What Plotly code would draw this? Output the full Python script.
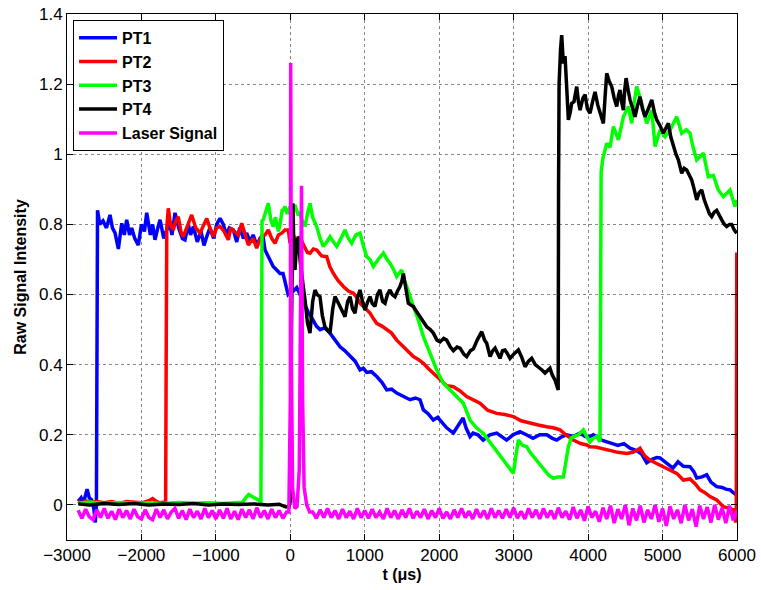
import plotly.graph_objects as go

# ---------------- data ----------------
pt1_t = [-2850,-2810,-2780,-2750,-2730,-2700,-2670,-2640,-2620,-2605,-2598,-2590,-2560,-2516,-2470,-2422,-2390,-2355,-2310,-2265,
         -2230,-2198,-2160,-2131,-2090,-2042,-2000,-1960,-1929,-1880,-1850,-1818,-1780,-1750,-1700,-1661,-1620,-1590,-1549,-1500,
         -1450,-1415,-1370,-1340,-1303,-1250,-1200,-1160,-1123,-1080,-1030,-990,-944,-900,-860,-820,-765,-720,-680,-630,
         -586,-540,-500,-450,-407,-370,-340,-300,-273,-230,-183,-139,-98,-60,-30,-4,40,86,130,172,
         240,306,350,400,460,533,600,668,730,802,870,936,980,1026,1090,1160,1230,1295,1360,1429,
         1520,1608,1680,1742,1787,1850,1920,1980,2011,2100,2190,2250,2320,2360,2414,2455,2520,2590,2680,2772,
         2840,2906,2990,3085,3170,3260,3350,3444,3520,3579,3650,3713,3800,3892,3960,4026,4070,4180,4295,4400,
         4480,4563,4650,4720,4787,4860,4920,4966,5050,5140,5208,5280,5369,5420,5459,5530,5593,5650,5727,5800,
         5850,5906,5950,5996]
pt1_v = [0.01,0.02,0.005,0.03,0.045,0.02,0.015,-0.01,-0.05,0.0,0.5,0.84,0.8,0.81,0.79,0.827,0.79,0.776,0.73,0.803,
         0.77,0.813,0.77,0.79,0.76,0.741,0.8,0.78,0.833,0.77,0.8,0.756,0.79,0.813,0.76,0.784,0.8,0.77,0.833,0.79,
         0.76,0.756,0.8,0.77,0.794,0.75,0.78,0.74,0.765,0.79,0.76,0.8,0.817,0.8,0.77,0.79,0.784,0.75,0.79,0.76,
         0.775,0.75,0.77,0.74,0.76,0.77,0.727,0.71,0.70,0.68,0.67,0.66,0.66,0.63,0.6,0.605,0.61,0.62,0.6,0.585,
         0.55,0.527,0.51,0.5,0.505,0.49,0.47,0.451,0.44,0.423,0.41,0.385,0.39,0.378,0.38,0.366,0.35,0.328,0.33,0.319,
         0.31,0.3,0.305,0.3,0.271,0.26,0.242,0.25,0.242,0.22,0.205,0.225,0.248,0.22,0.195,0.205,0.2,0.185,0.2,0.205,
         0.195,0.185,0.2,0.209,0.2,0.19,0.2,0.2,0.19,0.185,0.195,0.2,0.195,0.205,0.195,0.195,0.2,0.185,0.177,0.17,
         0.175,0.162,0.155,0.145,0.12,0.13,0.135,0.134,0.12,0.105,0.123,0.11,0.109,0.095,0.077,0.08,0.086,0.065,0.052,0.05,
         0.045,0.043,0.035,0.028]

pt2_t = [-2850,-2800,-2750,-2700,-2600,-2500,-2400,-2300,-2200,-2100,-2000,-1900,-1850,-1800,-1750,-1700,-1675,-1668,-1660,-1639,
         -1610,-1572,-1540,-1505,-1470,-1438,-1380,-1325,-1270,-1213,-1160,-1123,-1080,-1035,-990,-944,-890,-833,-800,-765,
         -700,-653,-610,-564,-500,-452,-420,-385,-340,-296,-250,-206,-160,-116,-72,-27,-4,40,80,130,
         180,230,264,310,354,420,489,530,578,640,713,780,847,900,936,1000,1070,1120,1160,1230,
         1295,1360,1429,1500,1563,1610,1653,1720,1787,1850,1921,1980,2011,2100,2190,2280,2369,2450,2548,2650,
         2772,2880,2996,3100,3220,3330,3444,3530,3623,3700,3801,3900,3981,4026,4100,4160,4295,4400,4519,4600,
         4650,4697,4760,4831,4920,5010,5100,5190,5279,5369,5440,5503,5570,5637,5727,5817,5900,5951,5983,5990,
         5997]
pt2_v = [0.01,0.005,0.012,0.008,0.01,0.006,0.01,0.004,0.01,0.008,0.006,0.012,0.018,0.01,0.006,0.008,0.005,0.4,0.79,0.846,
         0.8,0.784,0.81,0.822,0.78,0.765,0.8,0.827,0.79,0.775,0.8,0.817,0.79,0.765,0.79,0.794,0.78,0.756,0.79,0.784,
         0.77,0.803,0.77,0.741,0.76,0.732,0.75,0.765,0.77,0.784,0.76,0.746,0.77,0.775,0.784,0.784,0.746,0.77,0.75,0.765,
         0.74,0.72,0.718,0.73,0.727,0.71,0.708,0.68,0.66,0.64,0.623,0.61,0.604,0.59,0.575,0.56,0.547,0.53,0.518,0.51,
         0.499,0.49,0.47,0.455,0.442,0.43,0.423,0.415,0.404,0.39,0.376,0.365,0.356,0.34,0.337,0.325,0.309,0.3,0.29,0.27,
         0.261,0.258,0.252,0.24,0.233,0.228,0.223,0.22,0.214,0.2,0.185,0.175,0.171,0.166,0.165,0.162,0.157,0.15,0.147,0.15,
         0.155,0.162,0.14,0.128,0.118,0.109,0.1,0.09,0.071,0.074,0.06,0.043,0.035,0.024,0.014,-0.005,-0.01,-0.014,-0.05,-0.04,
         0.72]

pt3_t = [-2850,-2700,-2500,-2300,-2100,-1900,-1700,-1500,-1300,-1100,-900,-750,-640,-600,-560,-520,-480,-430,-395,-388,
         -380,-363,-330,-296,-260,-229,-200,-184,-160,-139,-110,-94,-72,-40,-4,30,63,100,130,160,
         197,230,264,300,354,400,443,490,533,580,623,680,734,780,824,880,936,980,1026,1070,
         1115,1180,1250,1300,1339,1390,1429,1496,1530,1563,1610,1653,1720,1787,1876,1966,2056,2145,2190,2280,
         2324,2414,2500,2593,2660,2727,2800,2862,2930,2996,3030,3063,3120,3175,3220,3265,3330,3399,3470,3533,
         3600,3668,3700,3735,3770,3801,3870,3936,3980,4026,4070,4115,4160,4168,4175,4200,4250,4295,4340,4407,
         4474,4541,4586,4620,4653,4720,4787,4855,4899,4966,5033,5100,5190,5257,5320,5369,5410,5459,5548,5615,
         5682,5749,5817,5906,5973,5998]
pt3_v = [0.005,0.008,0.004,0.007,0.005,0.006,0.004,0.007,0.005,0.006,0.004,0.006,0.008,0.02,0.03,0.025,0.02,0.012,0.01,0.4,
         0.81,0.813,0.84,0.86,0.81,0.794,0.82,0.8,0.78,0.8,0.84,0.841,0.851,0.83,0.851,0.84,0.855,0.83,0.832,0.81,
         0.794,0.83,0.86,0.82,0.794,0.76,0.737,0.75,0.765,0.75,0.737,0.76,0.784,0.76,0.746,0.77,0.775,0.74,0.708,0.7,
         0.68,0.7,0.718,0.7,0.689,0.67,0.651,0.67,0.64,0.623,0.59,0.566,0.527,0.48,0.433,0.385,0.347,0.328,0.318,0.3,
         0.29,0.242,0.22,0.204,0.185,0.166,0.145,0.128,0.11,0.09,0.14,0.185,0.17,0.166,0.15,0.138,0.12,0.1,0.085,0.076,
         0.08,0.08,0.12,0.166,0.19,0.195,0.2,0.214,0.195,0.18,0.19,0.195,0.18,0.6,0.95,0.99,1.031,1.02,1.079,1.041,
         1.107,1.136,1.088,1.15,1.193,1.145,1.088,1.126,1.022,1.069,1.05,1.069,1.107,1.06,1.07,1.06,1.02,0.984,1.003,0.936,
         0.94,0.898,0.879,0.898,0.851,0.87]

pt4_t = [-2850,-2700,-2500,-2300,-2100,-1900,-1700,-1500,-1300,-1100,-900,-700,-500,-300,-150,-60,-20,0,15,35,
         50,63,85,108,130,153,175,197,230,264,300,331,360,398,430,465,500,533,570,600,
         634,667,700,734,770,802,835,869,900,936,970,1003,1040,1070,1100,1137,1170,1204,1240,1272,
         1305,1339,1370,1406,1440,1473,1500,1518,1550,1585,1620,1653,1700,1742,1790,1832,1880,1921,1970,2011,
         2060,2100,2150,2190,2240,2280,2330,2369,2420,2459,2510,2571,2610,2638,2683,2720,2750,2790,2817,2850,
         2884,2920,2951,3000,3063,3110,3153,3200,3242,3290,3332,3380,3421,3460,3488,3520,3556,3580,3598,3603,
         3610,3630,3645,3667,3690,3715,3735,3760,3779,3810,3847,3870,3892,3930,3959,3990,4026,4060,4093,4130,
         4160,4205,4230,4250,4280,4317,4350,4384,4410,4429,4450,4474,4490,4510,4540,4563,4600,4630,4665,4697,
         4730,4764,4810,4855,4890,4922,4970,5011,5045,5078,5110,5145,5180,5212,5235,5257,5290,5324,5360,5391,
         5425,5459,5490,5526,5560,5593,5630,5660,5695,5727,5760,5795,5830,5862,5900,5929,5960,5996]
pt4_v = [0.003,0.0,0.004,0.001,0.004,0.0,0.003,0.001,0.004,0.0,0.003,0.001,0.003,0.0,0.002,-0.006,-0.004,0.01,0.5,0.86,
         0.7,0.67,0.75,0.765,0.7,0.651,0.62,0.585,0.52,0.49,0.58,0.613,0.6,0.594,0.54,0.508,0.5,0.49,0.56,0.594,
         0.58,0.566,0.55,0.537,0.58,0.594,0.56,0.547,0.59,0.613,0.58,0.556,0.58,0.594,0.575,0.566,0.6,0.613,0.58,0.575,
         0.6,0.613,0.6,0.594,0.61,0.623,0.64,0.66,0.62,0.575,0.57,0.566,0.55,0.537,0.52,0.508,0.5,0.49,0.47,0.465,
         0.475,0.47,0.45,0.44,0.45,0.447,0.43,0.423,0.44,0.445,0.47,0.494,0.47,0.461,0.423,0.44,0.447,0.43,0.418,0.44,
         0.442,0.43,0.418,0.43,0.442,0.42,0.394,0.41,0.418,0.4,0.394,0.385,0.376,0.385,0.39,0.37,0.356,0.34,0.328,0.9,
         1.2,1.3,1.34,1.259,1.28,1.18,1.098,1.12,1.145,1.15,1.193,1.15,1.126,1.16,1.17,1.13,1.117,1.15,1.178,1.14,
         1.117,1.088,1.17,1.231,1.21,1.193,1.16,1.136,1.17,1.183,1.15,1.126,1.18,1.217,1.18,1.155,1.13,1.107,1.14,1.164,
         1.13,1.107,1.13,1.155,1.12,1.098,1.08,1.06,1.075,1.088,1.05,1.022,1.0,0.984,0.96,0.946,0.96,0.955,0.94,0.927,
         0.9,0.87,0.89,0.898,0.87,0.851,0.83,0.822,0.835,0.84,0.825,0.813,0.8,0.794,0.8,0.8,0.785,0.775]

# Laser signal: baseline before the pulse (every 50 us from -2850 to -50)
laser_pre_v = [-0.015,-0.038,-0.012,-0.034,-0.042,-0.014,-0.036,-0.01,-0.038,-0.018,
               -0.042,-0.012,-0.036,-0.016,-0.04,-0.012,-0.034,-0.04,-0.014,-0.036,
               -0.042,-0.012,-0.036,-0.014,-0.04,-0.02,-0.01,-0.038,-0.016,-0.042,
               -0.012,-0.036,-0.018,-0.04,-0.01,-0.036,-0.016,-0.04,-0.014,-0.038,
               -0.01,-0.04,-0.018,-0.042,-0.012,-0.036,-0.014,-0.04,-0.008,-0.036,
               -0.016,-0.04,-0.012,-0.036,-0.016,-0.038,-0.02]
# the two laser pulses
laser_peak_t = [-20, 0, 5, 15, 30, 60, 90, 120, 150, 165, 185, 220, 260]
laser_peak_v = [-0.02, 0.3, 1.26, 0.4, 0.05, -0.01, -0.005, 0.1, 0.91, 0.3, 0.05, 0.0, -0.02]
# baseline after the pulse (every 50 us from 300 to 6000)
laser_post_v = [-0.02,-0.038,-0.014,-0.036,-0.01,-0.036,-0.016,-0.04,-0.012,-0.036,
                -0.018,-0.04,-0.01,-0.036,-0.016,-0.038,-0.012,-0.036,-0.02,-0.04,
                -0.01,-0.036,-0.016,-0.04,-0.014,-0.036,-0.01,-0.038,-0.018,-0.036,
                -0.012,-0.04,-0.016,-0.036,-0.01,-0.038,-0.02,-0.04,-0.014,-0.036,
                -0.01,-0.036,-0.018,-0.04,-0.012,-0.036,-0.016,-0.04,-0.01,-0.036,
                -0.016,-0.038,-0.012,-0.036,-0.008,-0.038,-0.018,-0.04,-0.01,-0.036,
                -0.014,-0.04,-0.01,-0.036,-0.016,-0.04,-0.008,-0.036,-0.018,-0.042,
                -0.006,-0.038,-0.014,-0.045,-0.004,-0.036,-0.018,-0.048,-0.008,-0.04,
                -0.002,-0.052,-0.012,-0.04,0.0,-0.058,-0.01,-0.044,-0.002,-0.05,
                -0.014,-0.04,0.0,-0.048,-0.01,-0.06,-0.004,-0.04,-0.014,-0.052,
                0.0,-0.044,-0.012,-0.062,-0.002,-0.04,-0.006,-0.05,0.0,-0.042,
                -0.008,-0.052,-0.002,-0.044,-0.016]

laser_t = list(range(-2850, 0, 50)) + laser_peak_t + list(range(300, 6001, 50))
laser_v = laser_pre_v + laser_peak_v + laser_post_v

x_ticks = [-3000, -2000, -1000, 0, 1000, 2000, 3000, 4000, 5000, 6000]
y_ticks = [0, 0.2, 0.4, 0.6, 0.8, 1, 1.2, 1.4]

series = [
    ("PT1", pt1_t, pt1_v, "#0000ff"),
    ("PT2", pt2_t, pt2_v, "#ff0000"),
    ("PT3", pt3_t, pt3_v, "#00ff00"),
    ("PT4", pt4_t, pt4_v, "#000000"),
    ("Laser Signal", laser_t, laser_v, "#ff00ff"),
]

FONT = "Liberation Sans, Arial, Helvetica, sans-serif"

fig = go.Figure()
for name, t, v, c in series:
    fig.add_trace(go.Scatter(x=t, y=v, mode="lines", name="<b>" + name + "</b>",
                             line=dict(color=c, width=3.5)))

axis_common = dict(
    showline=True, linecolor="black", linewidth=1, mirror="ticks",
    ticks="inside", ticklen=6, tickcolor="black", automargin=False,
    showgrid=True, gridcolor="#888888", griddash="dot", gridwidth=1,
    zeroline=False, tickfont=dict(family=FONT, size=17, color="black"),
)

fig.update_layout(
    width=761, height=590,
    margin=dict(l=67, r=24, t=14, b=50),
    paper_bgcolor="white", plot_bgcolor="white",
    font=dict(family=FONT, color="black"),
    xaxis=dict(range=[-3000, 6000], tickvals=x_ticks,
               title=dict(text="<b>t (μs)</b>", font=dict(family=FONT, size=16), standoff=4),
               **axis_common),
    yaxis=dict(range=[-0.1, 1.4], tickvals=y_ticks,
               title=dict(text="<b>Raw Signal Intensity</b>", font=dict(family=FONT, size=16), standoff=8),
               **axis_common),
    legend=dict(x=0.009, y=0.989, xanchor="left", yanchor="top",
                bgcolor="white", bordercolor="black", borderwidth=1,
                font=dict(family=FONT, size=16, color="black"),
                itemwidth=38, tracegroupgap=0),
    showlegend=True,
)

fig.write_html("out.html")
